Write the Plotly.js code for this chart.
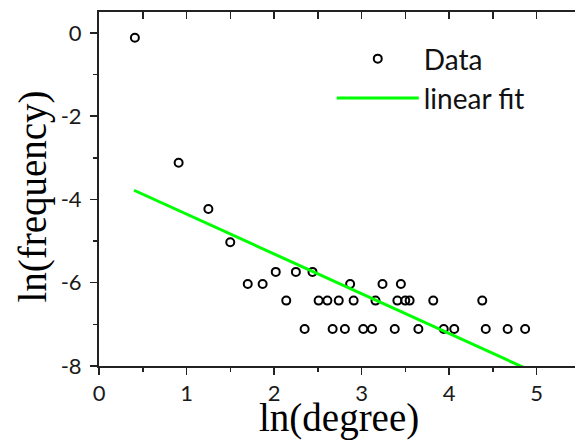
<!DOCTYPE html>
<html>
<head>
<meta charset="utf-8">
<script src="https://cdn.plot.ly/plotly-3.0.1.min.js"></script>
<style>html,body{margin:0;padding:0;background:#fff;}#chart{width:575px;height:441px;}</style>
</head>
<body>
<div id="chart"></div>
<script>
// ln(degree) of each observed node degree
var dataX = [0.41, 0.91, 1.25, 1.50, 2.02, 2.25, 2.44, 1.70, 1.87, 2.87, 3.24, 3.45,
             2.14, 2.51, 2.61, 2.74, 2.91, 3.16, 3.41, 3.50, 3.55, 3.82, 4.38,
             2.35, 2.67, 2.81, 3.02, 3.12, 3.38, 3.65, 3.94, 4.06, 4.42, 4.67, 4.87];
// ln(frequency) for each point
var dataY = [-0.12, -3.12, -4.23, -5.03, -5.74, -5.74, -5.74, -6.03, -6.03, -6.03, -6.03, -6.03,
             -6.43, -6.43, -6.43, -6.43, -6.43, -6.43, -6.43, -6.43, -6.43, -6.43, -6.43,
             -7.11, -7.11, -7.11, -7.11, -7.11, -7.11, -7.11, -7.11, -7.11, -7.11, -7.11, -7.11];
// linear fit end points
var fitX = [0.40, 4.88];
var fitY = [-3.78, -8.06];
var xTicks = [0, 1, 2, 3, 4, 5];
var yTicks = [0, -2, -4, -6, -8];

var tickFont = {family: 'Lato, "Open Sans", sans-serif', size: 22, color: '#1a1a1a'};
var axisColor = '#222';

var traces = [
  {x: dataX, y: dataY, type: 'scatter', mode: 'markers', name: 'Data',
   marker: {symbol: 'circle-open', size: 8, color: '#000', line: {width: 2, color: '#000'}}},
  {x: fitX, y: fitY, type: 'scatter', mode: 'lines', name: 'linear fit',
   line: {color: '#00ff00', width: 3}}
];

var layout = {
  width: 575, height: 441,
  margin: {l: 99, r: 0, t: 12, b: 75, pad: 0},
  paper_bgcolor: '#fff', plot_bgcolor: '#fff',
  showlegend: true,
  legend: {x: 0.489, y: 0.938, xanchor: 'left', yanchor: 'top', bgcolor: 'rgba(0,0,0,0)',
           font: {family: 'Lato, "Open Sans", sans-serif', size: 28, color: '#111'},
           itemwidth: 82, tracegroupgap: 0},
  xaxis: {range: [0, 5.44], tickvals: xTicks, ticktext: xTicks.map(String),
          showgrid: false, zeroline: false, showline: true, linecolor: axisColor, linewidth: 2,
          ticks: 'outside', ticklen: 7, tickwidth: 1.5, tickcolor: axisColor,
          minor: {dtick: 0.5, tick0: 0, ticks: 'outside', ticklen: 4, tickwidth: 1.5, tickcolor: axisColor, showgrid: false},
          tickfont: tickFont, ticklabelstandoff: 0},
  xaxis2: {overlaying: 'x', matches: 'x', side: 'top', anchor: 'y',
           range: [0, 5.44], tickvals: xTicks, showticklabels: false,
           showgrid: false, zeroline: false, showline: true, linecolor: axisColor, linewidth: 2,
           ticks: 'inside', ticklen: 7, tickwidth: 1.5, tickcolor: axisColor,
           minor: {dtick: 0.5, tick0: 0, ticks: 'inside', ticklen: 7, tickwidth: 1.5, tickcolor: axisColor, showgrid: false}},
  yaxis: {range: [-8, 0.5], tickvals: yTicks, ticktext: yTicks.map(String),
          showgrid: false, zeroline: false, showline: true, linecolor: axisColor, linewidth: 2,
          ticks: 'outside', ticklen: 7, tickwidth: 1.5, tickcolor: axisColor,
          minor: {dtick: 1, tick0: 0, ticks: 'outside', ticklen: 4, tickwidth: 1.5, tickcolor: axisColor, showgrid: false},
          tickfont: tickFont, ticklabelstandoff: 4},
  annotations: [
    {text: 'ln(degree)', xref: 'paper', yref: 'paper', x: 0.505, y: -0.2115,
     xanchor: 'center', yanchor: 'bottom', showarrow: false, borderpad: 0,
     font: {family: '"Liberation Serif", "DejaVu Serif", serif', size: 39, color: '#000'}},
    {text: 'ln(frequency)', xref: 'paper', yref: 'paper', x: -0.139, y: 0.478,
     xanchor: 'center', yanchor: 'middle', textangle: -90, showarrow: false,
     font: {family: '"Liberation Serif", "DejaVu Serif", serif', size: 39, color: '#000'}}
  ]
};

// invisible trace to activate the top mirror axis
traces.push({x: [0], y: [0], xaxis: 'x2', yaxis: 'y', type: 'scatter', mode: 'markers',
             marker: {opacity: 0}, showlegend: false, hoverinfo: 'skip'});

Plotly.newPlot('chart', traces, layout, {staticPlot: true, displayModeBar: false});
</script>
</body>
</html>
